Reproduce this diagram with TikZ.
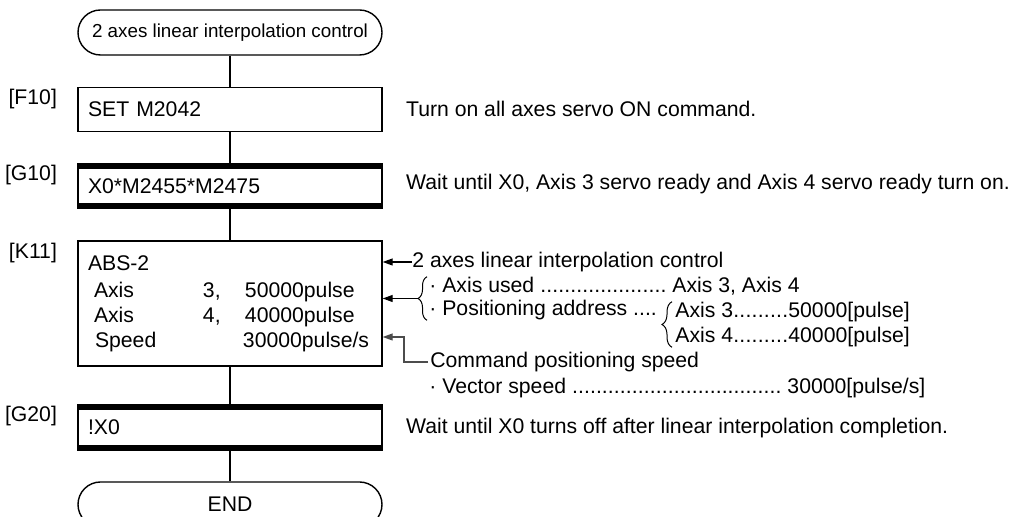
\documentclass[tikz,border=0pt]{standalone}
\usepackage{fontspec}
\setmainfont{Liberation Sans}
\usetikzlibrary{arrows.meta,positioning,decorations.pathreplacing}

\begin{document}
\begin{tikzpicture}[
  x=0.5pt,y=-0.5pt,
  font=\fontsize{10.6}{12.5}\selectfont,
  node distance=15.5pt,
  term/.style={rectangle,rounded corners=11.25pt,draw,line width=0.7pt,minimum width=152pt,minimum height=22.5pt,inner sep=0pt},
  cbox/.style={rectangle,draw,line width=0.7pt,text width=142pt,inner xsep=5pt,inner ysep=0pt,minimum height=22pt,align=left},
  wbox/.style={cbox,minimum height=22.5pt,path picture={
    \fill (path picture bounding box.north west) rectangle ([yshift=-2.7pt]path picture bounding box.north east);
    \fill (path picture bounding box.south west) rectangle ([yshift=2.7pt]path picture bounding box.south east);}},
  tag/.style={anchor=north east,inner sep=0pt},
  note/.style={anchor=west,inner sep=0pt,align=left},
  link/.style={line width=0.6pt},
  arr/.style={line width=0.6pt,-{Triangle[length=5pt,width=3.5pt]}},
  brc/.style={decorate,decoration={brace,amplitude=4.5pt},line width=0.5pt}]
\useasboundingbox (0,0) rectangle (1013,517);
\node[term] (start) at (230,32.5) {\fontsize{9.4}{11}\selectfont 2 axes linear interpolation control};
\node[cbox,below=of start] (F10) {SET M2042};
\node[wbox,below=of F10] (G10) {X0*M2455*M2475};
\node[cbox,below=of G10,minimum height=62.5pt] (K11) {ABS-2\\[1pt]
  \hspace*{3pt}\makebox[54.5pt][l]{Axis}\makebox[21pt][l]{3,}50000pulse\\
  \hspace*{3pt}\makebox[54.5pt][l]{Axis}\makebox[21pt][l]{4,}40000pulse\\
  \hspace*{3.5pt}\makebox[74pt][l]{Speed}30000pulse/s};
\node[wbox,below=18.5pt of K11,minimum height=23pt] (G20) {!X0};
\node[term,below=15pt of G20] (end) {END};
\foreach \a/\b in {start/F10,F10/G10,G10/K11,K11/G20,G20/end} \draw[link] (\a) -- (\b);
\foreach \n in {F10,G10,K11,G20} \node[tag] (t\n) at ([xshift=-10pt,yshift=-1pt]\n.north west) {[\n]};
\node[note,right=11.5pt of F10] (cF10) {Turn on all axes servo ON command.};
\node[note,right=11.5pt of G10,yshift=1pt] (cG10) {Wait until X0, Axis 3 servo ready and Axis 4 servo ready turn on.};
\node[note,right=11.5pt of G20] (cG20) {Wait until X0 turns off after linear interpolation completion.};
\node[note] (a1) at (412,262) {2 axes linear interpolation control};
\node[note,font=\fontsize{10.6}{11.5}\selectfont] (a2) at (429,298.5) {\makebox[121.5pt][l]{· Axis used \xleaders\hbox{.}\hfill\ }Axis 3, Axis 4\\· Positioning address ....};
\node[note] (a3) at (675,324.5) {\makebox[56.5pt][l]{Axis 3\xleaders\hbox{.}\hfill}50000[pulse]\\\makebox[56.5pt][l]{Axis 4\xleaders\hbox{.}\hfill}40000[pulse]};
\node[note] (a4) at (430,362) {Command positioning speed};
\node[note] (a5) at (429,388) {\makebox[179pt][l]{· Vector speed \xleaders\hbox{.}\hfill\ }30000[pulse/s]};
\draw[brc] ([xshift=-1pt]a2.south west) -- ([xshift=-1pt]a2.north west);
\draw[brc,decoration={amplitude=5pt}] ([xshift=-1.5pt]a3.south west) -- ([xshift=-1.5pt]a3.north west);
\coordinate (b2) at ([xshift=-5.5pt]a2.west);
\draw[arr] (a1.west) -- (a1.west -| K11.east);
\draw[arr] (b2) -- (b2 -| K11.east);
\draw[arr,black!70] ([xshift=-1pt]a4.west) -- ++(-12pt,0) |- ([yshift=12.5pt]a4.west -| K11.east);
\end{tikzpicture}
\end{document}
